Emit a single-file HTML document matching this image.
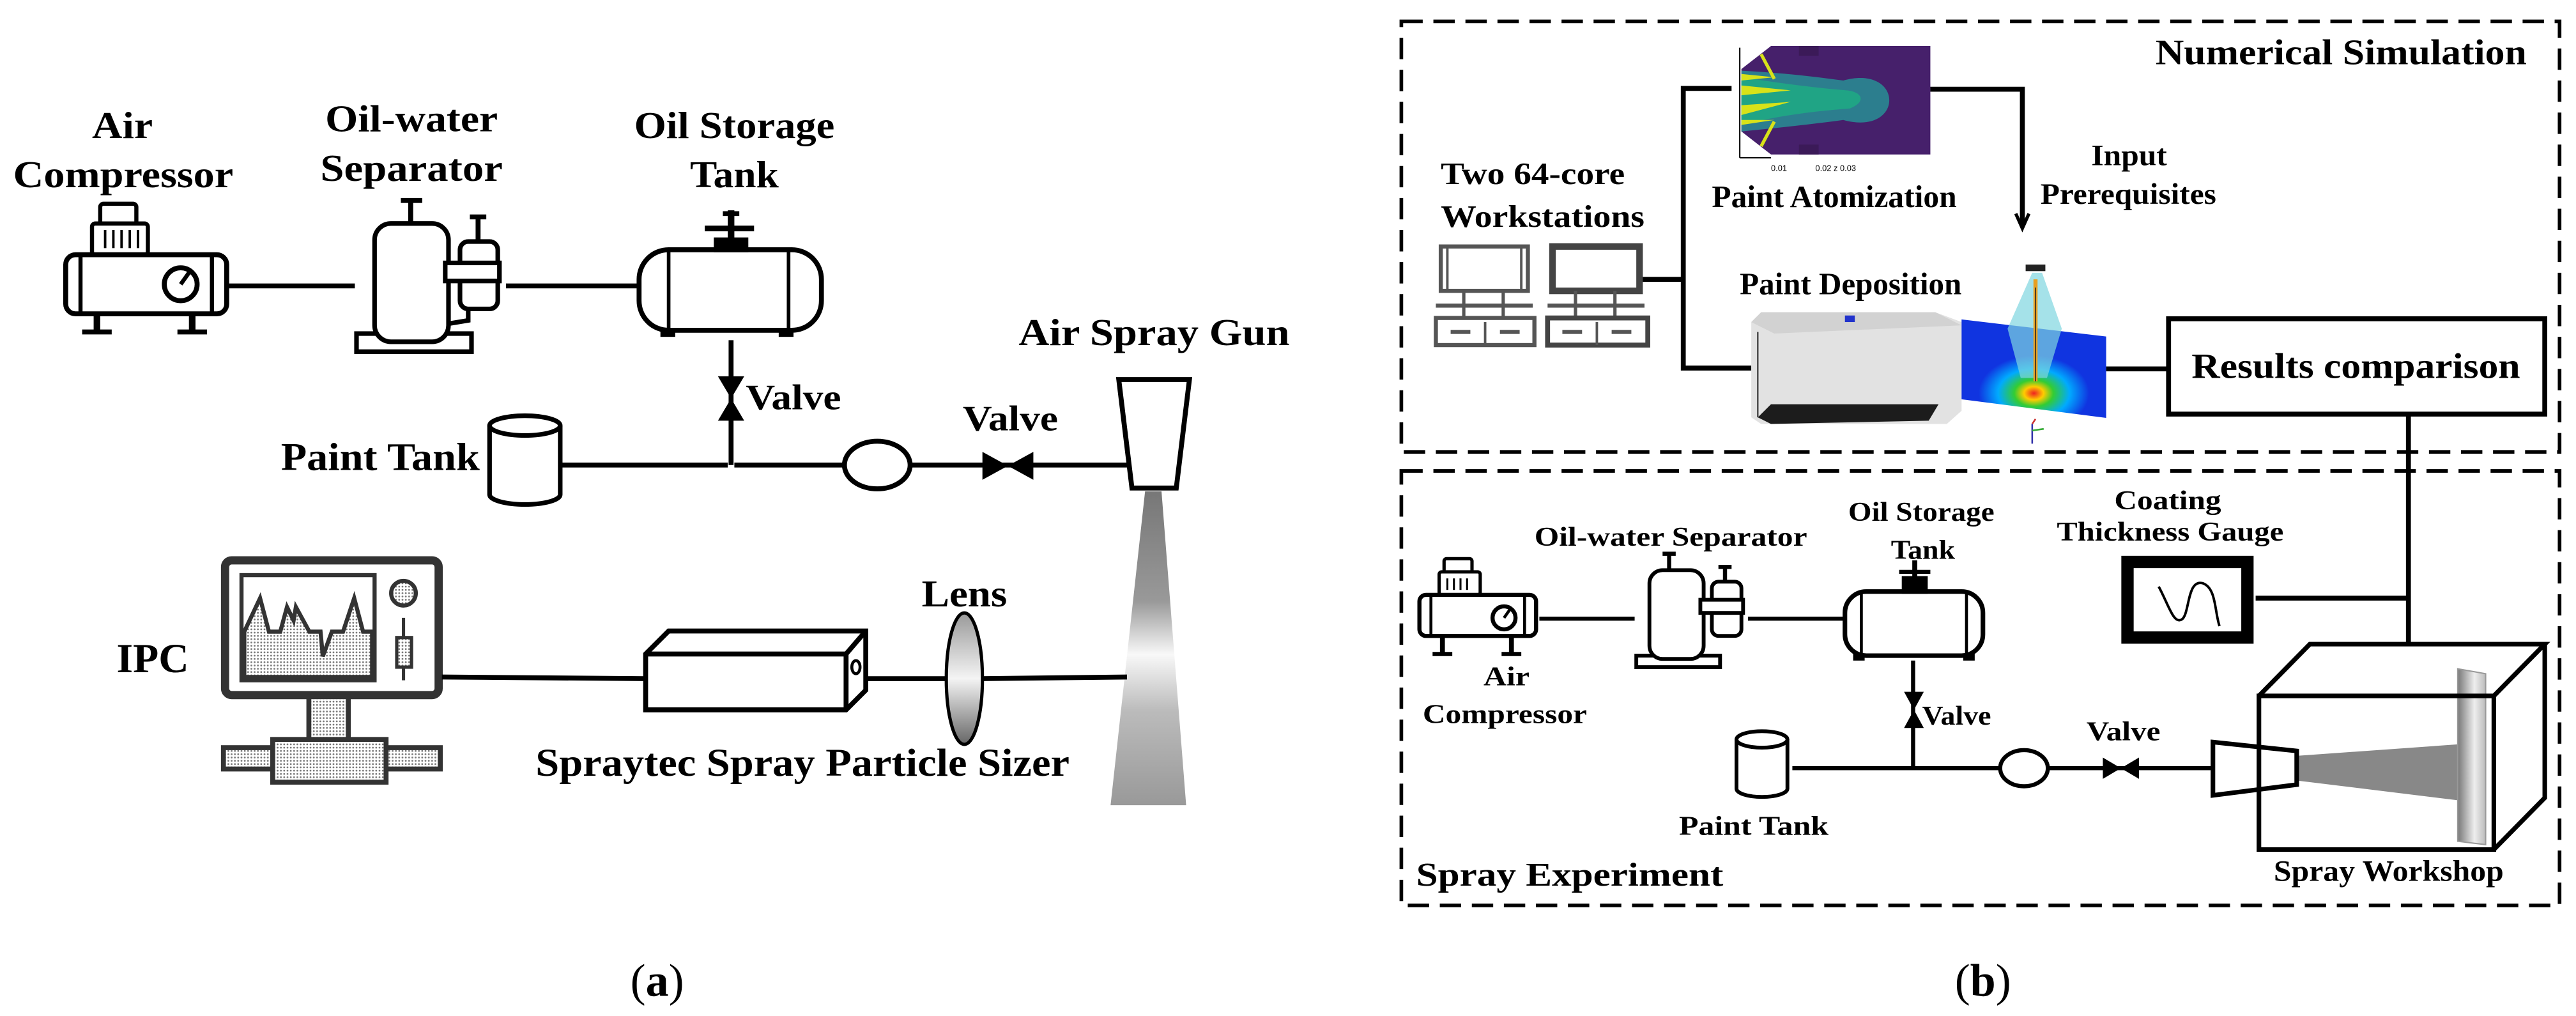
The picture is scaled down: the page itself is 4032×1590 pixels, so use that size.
<!DOCTYPE html>
<html><head><meta charset="utf-8"><style>
html,body{margin:0;padding:0;background:#fff;}
svg{display:block;}
svg text{font-family:"Liberation Serif","Times New Roman",serif;font-weight:bold;fill:#000;}
</style></head><body>
<svg width="4032" height="1590" viewBox="0 0 1568 618.3" preserveAspectRatio="none" xmlns="http://www.w3.org/2000/svg" font-family="Liberation Serif, Times New Roman, serif" font-weight="bold">
<defs>
<linearGradient id="cone" x1="0" y1="0" x2="0" y2="1"><stop offset="0" stop-color="#777"/><stop offset="0.35" stop-color="#999"/><stop offset="0.52" stop-color="#f8f8f8"/><stop offset="0.7" stop-color="#bbb"/><stop offset="1" stop-color="#999"/></linearGradient>
<linearGradient id="lens" x1="0" y1="0" x2="0" y2="1"><stop offset="0" stop-color="#999"/><stop offset="0.5" stop-color="#f4f4f4"/><stop offset="1" stop-color="#666"/></linearGradient>
<pattern id="dots" width="2" height="2" patternUnits="userSpaceOnUse"><rect width="2" height="2" fill="#fff"/><circle cx="1" cy="1" r="0.55" fill="#777"/></pattern>
<radialGradient id="spot" cx="0.5" cy="0.75" r="0.45"><stop offset="0" stop-color="#e22"/><stop offset="0.15" stop-color="#fc0"/><stop offset="0.3" stop-color="#3c3"/><stop offset="0.55" stop-color="#0af"/><stop offset="0.85" stop-color="#1034e0"/><stop offset="1" stop-color="#1034e0"/></radialGradient>
<linearGradient id="plate" x1="0" y1="0" x2="1" y2="0"><stop offset="0" stop-color="#777"/><stop offset="0.6" stop-color="#eee"/><stop offset="1" stop-color="#bbb"/></linearGradient>
</defs>

<!-- ========== PANEL (a) ========== -->
<text x="56" y="84" font-size="23" textLength="37" lengthAdjust="spacingAndGlyphs">Air</text>
<text x="8" y="114" font-size="23" textLength="134" lengthAdjust="spacingAndGlyphs">Compressor</text>
<text x="198" y="80" font-size="23" textLength="105" lengthAdjust="spacingAndGlyphs">Oil-water</text>
<text x="195" y="110" font-size="23" textLength="111" lengthAdjust="spacingAndGlyphs">Separator</text>
<text x="386" y="84" font-size="23" textLength="122" lengthAdjust="spacingAndGlyphs">Oil Storage</text>
<text x="420" y="114" font-size="23" textLength="54" lengthAdjust="spacingAndGlyphs">Tank</text>

<g stroke="#000" fill="#fff" stroke-width="3">
<rect x="61" y="124" width="22" height="13" rx="2" stroke-width="2.5"/>
<rect x="56" y="136" width="34" height="19" rx="2" stroke-width="2.5"/>
<line x1="64" y1="140" x2="64" y2="151" stroke-width="1.5"/><line x1="69" y1="140" x2="69" y2="151" stroke-width="1.5"/><line x1="74" y1="140" x2="74" y2="151" stroke-width="1.5"/><line x1="79" y1="140" x2="79" y2="151" stroke-width="1.5"/><line x1="84" y1="140" x2="84" y2="151" stroke-width="1.5"/>
<rect x="40" y="155" width="98" height="36" rx="6"/>
<line x1="49" y1="155" x2="49" y2="191" stroke-width="2.5"/>
<line x1="129" y1="155" x2="129" y2="191" stroke-width="2.5"/>
<circle cx="110" cy="173" r="10"/><line x1="110" y1="173" x2="115" y2="166" stroke-width="2.5"/>
<line x1="59" y1="191" x2="59" y2="202" stroke-width="4"/><line x1="50" y1="202" x2="68" y2="202"/>
<line x1="117" y1="191" x2="117" y2="202" stroke-width="4"/><line x1="108" y1="202" x2="126" y2="202"/>
</g>
<line x1="139" y1="174" x2="216" y2="174" stroke="#000" stroke-width="3"/>
<g stroke="#000" fill="#fff" stroke-width="2.8">
<rect x="217" y="203" width="70" height="11"/>
<rect x="228" y="136" width="45" height="72" rx="10"/>
<line x1="250" y1="122" x2="250" y2="136" stroke-width="3"/><line x1="244" y1="122" x2="257" y2="122" stroke-width="3"/>
<rect x="280" y="147" width="23" height="41" rx="5"/>
<rect x="271" y="160" width="33" height="11"/>
<line x1="291" y1="132" x2="291" y2="147" stroke-width="3"/><line x1="286" y1="132" x2="296" y2="132" stroke-width="3"/>
<path d="M285,188 L285,195 L273,197" fill="none"/>
</g>
<line x1="308" y1="174" x2="389" y2="174" stroke="#000" stroke-width="3"/>
<g stroke="#000" fill="#fff" stroke-width="3">
<rect x="389" y="152" width="111" height="49" rx="18"/>
<line x1="407" y1="153" x2="407" y2="200" stroke-width="2.2"/>
<line x1="480" y1="153" x2="480" y2="200" stroke-width="2.2"/>
<rect x="436" y="146" width="18" height="6" fill="#000"/>
<line x1="445" y1="128" x2="445" y2="147" stroke-width="4"/>
<line x1="429" y1="139" x2="459" y2="139" stroke-width="3.5"/>
<line x1="440" y1="130" x2="450" y2="130" stroke-width="3"/>
</g>
<rect x="402" y="200" width="9" height="5" fill="#000"/><rect x="474" y="200" width="9" height="5" fill="#000"/>
<line x1="445" y1="207" x2="445" y2="283" stroke="#000" stroke-width="3"/>
<polygon points="437,229 453,229 445,242.5 437,256 453,256 445,242.5" fill="#000"/>
<text x="454" y="249" font-size="22" textLength="58" lengthAdjust="spacingAndGlyphs">Valve</text>
<g stroke="#000" fill="#fff" stroke-width="2.8">
<path d="M298,259 L298,301 A21.5,6 0 0 0 341,301 L341,259"/>
<ellipse cx="319.5" cy="259" rx="21.5" ry="6"/>
</g>
<text x="171" y="286" font-size="24" textLength="121" lengthAdjust="spacingAndGlyphs">Paint Tank</text>
<line x1="342" y1="283" x2="443" y2="283" stroke="#000" stroke-width="3"/>
<line x1="447" y1="283" x2="688" y2="283" stroke="#000" stroke-width="3"/>
<ellipse cx="534" cy="283" rx="20" ry="14.5" fill="#fff" stroke="#000" stroke-width="3"/>
<polygon points="598,275 598,292 613.5,283.5 629,275 629,292 613.5,283.5" fill="#000"/>
<text x="586" y="262" font-size="22" textLength="58" lengthAdjust="spacingAndGlyphs">Valve</text>
<polygon points="681,231 724,231 716,297 689,297" fill="#fff" stroke="#000" stroke-width="3"/>
<text x="620" y="210" font-size="23" textLength="165" lengthAdjust="spacingAndGlyphs">Air Spray Gun</text>
<polygon points="697,299 707,299 722,490 676,490" fill="url(#cone)"/>
<g stroke="#333" fill="#fff">
<rect x="137" y="341" width="130" height="82" rx="4" stroke-width="5"/>
<rect x="147" y="350" width="81" height="64" stroke-width="2.5"/>
<rect x="188" y="424" width="24" height="27" stroke-width="3" fill="url(#dots)"/>
<rect x="136" y="455" width="132" height="13" stroke-width="3" fill="url(#dots)"/>
<rect x="166" y="450" width="69" height="26" stroke-width="3" fill="url(#dots)"/>
<circle cx="245.6" cy="361" r="7.5" stroke-width="2.5" fill="url(#dots)"/>
<line x1="245.6" y1="376" x2="245.6" y2="414" stroke-width="2"/>
<rect x="241.5" y="388" width="9" height="18" stroke-width="2" fill="url(#dots)"/>
</g>
<path d="M148.7,412 L148.7,384.4 L158.3,364 L163.7,384.4 L170.6,384.4 L174.7,369.4 L178.7,377.6 L180.1,369.4 L188.3,384.4 L195.1,384.4 L196.5,399.4 L202,384.4 L208.8,384.4 L215.6,364 L221,384.4 L226.5,384.4 L226.5,412 Z" fill="url(#dots)" stroke="#333" stroke-width="2.5"/>
<text x="71" y="409" font-size="25" textLength="44" lengthAdjust="spacingAndGlyphs">IPC</text>
<line x1="269" y1="412" x2="393" y2="413" stroke="#000" stroke-width="3"/>
<g stroke="#000" fill="#fff" stroke-width="3">
<polygon points="393,398 407,384 527,384 527,420 515,432 393,432"/>
<line x1="393" y1="398" x2="515" y2="398"/><line x1="515" y1="398" x2="527" y2="384"/><line x1="515" y1="398" x2="515" y2="432"/>
<ellipse cx="521" cy="406" rx="2.5" ry="4" stroke-width="1.8"/>
</g>
<line x1="527" y1="413" x2="577" y2="413" stroke="#000" stroke-width="3"/>
<line x1="597" y1="413" x2="686" y2="412" stroke="#000" stroke-width="3"/>
<ellipse cx="587" cy="413" rx="11" ry="40" fill="url(#lens)" stroke="#000" stroke-width="2"/>
<text x="561" y="369" font-size="23" textLength="52" lengthAdjust="spacingAndGlyphs">Lens</text>
<text x="326" y="472" font-size="24" textLength="325" lengthAdjust="spacingAndGlyphs">Spraytec Spray Particle Sizer</text>
<text x="400" y="606" font-size="28" text-anchor="middle" style="font-weight:normal">(<tspan style="font-weight:bold">a</tspan>)</text>

<!-- ========== PANEL (b) ========== -->
<g stroke="#000" stroke-width="2.2" fill="none" stroke-dasharray="13,6.5">
<rect x="853" y="13" width="705" height="262"/>
<rect x="853" y="286.6" width="705" height="264.4"/>
</g>
<text x="1312" y="39" font-size="22" textLength="226" lengthAdjust="spacingAndGlyphs">Numerical Simulation</text>
<polygon points="1060,42 1078,28 1175,28 1175,94 1078,94 1060,80" fill="#46206b"/>
<path d="M1060,43 C1080,44 1100,46 1122,49 C1140,44 1150,52 1150,61 C1150,70 1140,78 1122,73 C1100,76 1080,78 1060,80 Z" fill="#2c7e8e"/>
<path d="M1060,47 C1080,50 1100,53 1124,55 C1134,56 1136,62 1126,66 C1100,68 1080,71 1060,76 Z" fill="#20a485"/>
<path d="M1060,52 L1090,55 L1060,58 Z M1060,64 L1090,62 L1060,70 Z M1060,45 L1080,47 L1060,49 Z M1060,73 L1080,73 L1060,76 Z" fill="#d8e219"/>
<line x1="1072" y1="33" x2="1080" y2="48" stroke="#d8e219" stroke-width="2"/>
<line x1="1072" y1="89" x2="1080" y2="74" stroke="#d8e219" stroke-width="2"/>
<rect x="1095" y="28" width="12" height="6" fill="#3b1a58"/><rect x="1095" y="88" width="12" height="6" fill="#3b1a58"/>
<line x1="1059" y1="29" x2="1059" y2="96" stroke="#000" stroke-width="0.8"/>
<line x1="1059" y1="96" x2="1078" y2="96" stroke="#000" stroke-width="0.8"/>
<text x="1078" y="104" font-size="5" style="font-weight:normal;font-family:'Liberation Sans',sans-serif">0.01</text>
<text x="1105" y="104" font-size="5" style="font-weight:normal;font-family:'Liberation Sans',sans-serif">0.02 z 0.03</text>
<text x="1042" y="126" font-size="19" textLength="149" lengthAdjust="spacingAndGlyphs">Paint Atomization</text>
<g stroke="#000" stroke-width="3" fill="none">
<polyline points="1054,53.8 1024.6,53.8 1024.6,224 1066,224"/>
<line x1="999" y1="170" x2="1024.6" y2="170"/>
<polyline points="1175,54.3 1231,54.3 1231,137"/>
<line x1="1282" y1="224.5" x2="1320" y2="224.5"/>
<line x1="1466" y1="252" x2="1466" y2="392"/>
<line x1="1373" y1="364" x2="1466" y2="364"/>
</g>
<polyline points="1227,130 1231,139 1235,130" fill="none" stroke="#000" stroke-width="2"/>
<text x="1273" y="100.6" font-size="18" textLength="46" lengthAdjust="spacingAndGlyphs">Input</text>
<text x="1242" y="124" font-size="18" textLength="107" lengthAdjust="spacingAndGlyphs">Prerequisites</text>
<text x="877" y="112" font-size="19" textLength="112" lengthAdjust="spacingAndGlyphs">Two 64-core</text>
<text x="877" y="138" font-size="19" textLength="124" lengthAdjust="spacingAndGlyphs">Workstations</text>
<g stroke="#555" fill="none" stroke-width="2.5">
<rect x="877" y="150" width="53" height="27"/>
<line x1="881" y1="151" x2="881" y2="176" stroke-width="1.5"/><line x1="926" y1="151" x2="926" y2="176" stroke-width="1.5"/>
<rect x="945" y="150" width="53" height="27" stroke="#444" stroke-width="4"/>
<line x1="874" y1="186" x2="933" y2="186" stroke-width="2.5"/><line x1="942" y1="186" x2="1001" y2="186" stroke-width="2.5"/>
<line x1="891" y1="177" x2="891" y2="193" stroke-width="2"/><line x1="915" y1="177" x2="915" y2="193" stroke-width="2"/>
<line x1="959" y1="177" x2="959" y2="193" stroke-width="2"/><line x1="983" y1="177" x2="983" y2="193" stroke-width="2"/>
<rect x="874" y="193.5" width="60" height="16.5"/><rect x="942" y="193.5" width="61" height="16.5" stroke="#444" stroke-width="3"/>
<line x1="904" y1="196" x2="904" y2="210" stroke-width="1.5"/><line x1="972" y1="196" x2="972" y2="210" stroke-width="1.5"/>
<line x1="883" y1="202" x2="895" y2="202" stroke-width="2.5"/><line x1="913" y1="202" x2="925" y2="202" stroke-width="2.5"/>
<line x1="951" y1="202" x2="963" y2="202" stroke-width="2.5"/><line x1="981" y1="202" x2="993" y2="202" stroke-width="2.5"/>
</g>
<text x="1059" y="179" font-size="19" textLength="135" lengthAdjust="spacingAndGlyphs">Paint Deposition</text>
<polygon points="1066,196 1066,254 1072,258 1185,258 1194,250 1194,196 1178,190 1072,190" fill="#e2e2e2"/>
<polygon points="1066,196 1080,203 1194,198 1178,190 1072,190" fill="#d2d2d2"/>
<polygon points="1070,254 1078,246 1180,246 1174,256 1078,258" fill="#1c1c1c"/>
<rect x="1123" y="192" width="6" height="4" fill="#2233cc"/>
<line x1="1070" y1="202" x2="1070" y2="254" stroke="#000" stroke-width="0.7"/>
<polygon points="1194,194.4 1282,204.8 1282,254.3 1194,243" fill="url(#spot)"/>
<path d="M1237,166 L1222,200 L1230,230 L1246,230 L1255,200 L1243,166 Z" fill="#7fd6e0" opacity="0.7"/>
<line x1="1239" y1="170" x2="1239" y2="232" stroke="#e8a020" stroke-width="2.5"/>
<line x1="1239" y1="175" x2="1239" y2="232" stroke="#222" stroke-width="0.6"/>
<rect x="1233" y="161" width="12" height="4" fill="#222"/>
<line x1="1237" y1="258" x2="1237" y2="270" stroke="#33a" stroke-width="1"/><line x1="1237" y1="262" x2="1244" y2="261" stroke="#3a3" stroke-width="1"/><line x1="1237" y1="258" x2="1239" y2="255" stroke="#c33" stroke-width="1"/>
<rect x="1320" y="194" width="229" height="58" fill="#fff" stroke="#000" stroke-width="3"/>
<text x="1334" y="230" font-size="22" textLength="200" lengthAdjust="spacingAndGlyphs">Results comparison</text>
<text x="1287" y="310" font-size="16.5" textLength="65" lengthAdjust="spacingAndGlyphs">Coating</text>
<text x="1252" y="329" font-size="16.5" textLength="138" lengthAdjust="spacingAndGlyphs">Thickness Gauge</text>
<rect x="1295" y="342" width="73" height="46" fill="#fff" stroke="#000" stroke-width="7.5"/>
<path d="M1314,357 C1320,368 1323,380 1328,377 C1333,374 1331,352 1341,355 C1349,358 1348,372 1351,381" fill="none" stroke="#000" stroke-width="1.5"/>
<g stroke="#000" fill="#fff" stroke-width="2.5">
<rect x="879" y="340" width="17" height="10" rx="1.5" stroke-width="2"/>
<rect x="876" y="348" width="25" height="14" rx="1.5" stroke-width="2"/>
<line x1="881" y1="352" x2="881" y2="359" stroke-width="1.2"/><line x1="885" y1="352" x2="885" y2="359" stroke-width="1.2"/><line x1="889" y1="352" x2="889" y2="359" stroke-width="1.2"/><line x1="893" y1="352" x2="893" y2="359" stroke-width="1.2"/>
<rect x="864" y="362" width="71" height="25" rx="4"/>
<line x1="871" y1="362" x2="871" y2="387" stroke-width="1.8"/><line x1="928" y1="362" x2="928" y2="387" stroke-width="1.8"/>
<circle cx="915.5" cy="376" r="7"/><line x1="915.5" y1="376" x2="919" y2="371" stroke-width="1.8"/>
<line x1="878" y1="387" x2="878" y2="397" stroke-width="3"/><line x1="872" y1="398" x2="884" y2="398"/>
<line x1="920" y1="387" x2="920" y2="397" stroke-width="3"/><line x1="914" y1="398" x2="926" y2="398"/>
</g>
<text x="903" y="417" font-size="16.5" textLength="28" lengthAdjust="spacingAndGlyphs">Air</text>
<text x="866" y="440" font-size="16.5" textLength="100" lengthAdjust="spacingAndGlyphs">Compressor</text>
<line x1="937" y1="376.5" x2="995" y2="376.5" stroke="#000" stroke-width="2.5"/>
<g stroke="#000" fill="#fff" stroke-width="2.3">
<rect x="996" y="399" width="51" height="7"/>
<rect x="1004" y="347" width="33" height="54" rx="8"/>
<line x1="1016" y1="337" x2="1016" y2="347" stroke-width="2.5"/><line x1="1012" y1="337" x2="1020" y2="337" stroke-width="2.5"/>
<rect x="1042" y="354" width="18" height="33" rx="4"/>
<rect x="1035" y="365" width="26" height="8"/>
<line x1="1050" y1="345" x2="1050" y2="354" stroke-width="2.5"/><line x1="1046" y1="345" x2="1054" y2="345" stroke-width="2.5"/>
</g>
<text x="934" y="332" font-size="16.5" textLength="166" lengthAdjust="spacingAndGlyphs">Oil-water Separator</text>
<line x1="1064" y1="376.5" x2="1123" y2="376.5" stroke="#000" stroke-width="2.5"/>
<g stroke="#000" fill="#fff" stroke-width="2.8">
<rect x="1123" y="360" width="84" height="39" rx="13"/>
<line x1="1133" y1="361" x2="1133" y2="398" stroke-width="1.8"/><line x1="1197" y1="361" x2="1197" y2="398" stroke-width="1.8"/>
<rect x="1159" y="352" width="13" height="8" fill="#000"/>
<line x1="1165.5" y1="341" x2="1165.5" y2="353" stroke-width="3"/><line x1="1156" y1="348" x2="1175" y2="348" stroke-width="2.5"/>
</g>
<rect x="1128" y="398" width="7" height="4" fill="#000"/><rect x="1195" y="398" width="7" height="4" fill="#000"/>
<text x="1125" y="317" font-size="16.5" textLength="89" lengthAdjust="spacingAndGlyphs">Oil Storage</text>
<text x="1151" y="340" font-size="16.5" textLength="39" lengthAdjust="spacingAndGlyphs">Tank</text>
<line x1="1164.5" y1="402" x2="1164.5" y2="468" stroke="#000" stroke-width="2.5"/>
<polygon points="1159,421 1171,421 1165,432 1159,443 1171,443 1165,432" fill="#000"/>
<text x="1170" y="441" font-size="16.5" textLength="42" lengthAdjust="spacingAndGlyphs">Valve</text>
<g stroke="#000" fill="#fff" stroke-width="2.3">
<path d="M1057,450 L1057,480 A15.5,5 0 0 0 1088,480 L1088,450"/>
<ellipse cx="1072.5" cy="450" rx="15.5" ry="5"/>
</g>
<text x="1022" y="508" font-size="16.5" textLength="91" lengthAdjust="spacingAndGlyphs">Paint Tank</text>
<line x1="1091" y1="467.5" x2="1347" y2="467.5" stroke="#000" stroke-width="2.5"/>
<ellipse cx="1232" cy="467.5" rx="14.5" ry="11" fill="#fff" stroke="#000" stroke-width="2.5"/>
<polygon points="1280,461 1280,474 1291,467.5 1302,461 1302,474 1291,467.5" fill="#000"/>
<text x="1270" y="450.5" font-size="16.5" textLength="45" lengthAdjust="spacingAndGlyphs">Valve</text>
<polygon points="1398,460 1496,453 1496,487 1398,475" fill="#888"/>
<polygon points="1496,407 1513,410 1513,514 1496,512" fill="url(#plate)" stroke="#999" stroke-width="0.8"/>
<g stroke="#000" fill="none" stroke-width="2.8">
<rect x="1375" y="423.5" width="143" height="93.5"/>
<polyline points="1375,423.5 1406,392 1549,392 1518,423.5"/>
<polyline points="1549,392 1549,485.5 1518,517"/>
</g>
<polygon points="1347,451.6 1398,457 1398,477.5 1347,484" fill="none" stroke="#000" stroke-width="2.8"/>
<text x="1384" y="536" font-size="18" textLength="140" lengthAdjust="spacingAndGlyphs">Spray Workshop</text>
<text x="862" y="539" font-size="20" textLength="187" lengthAdjust="spacingAndGlyphs">Spray Experiment</text>
<text x="1207" y="606" font-size="28" text-anchor="middle" style="font-weight:normal">(<tspan style="font-weight:bold">b</tspan>)</text>
</svg>
</body></html>
